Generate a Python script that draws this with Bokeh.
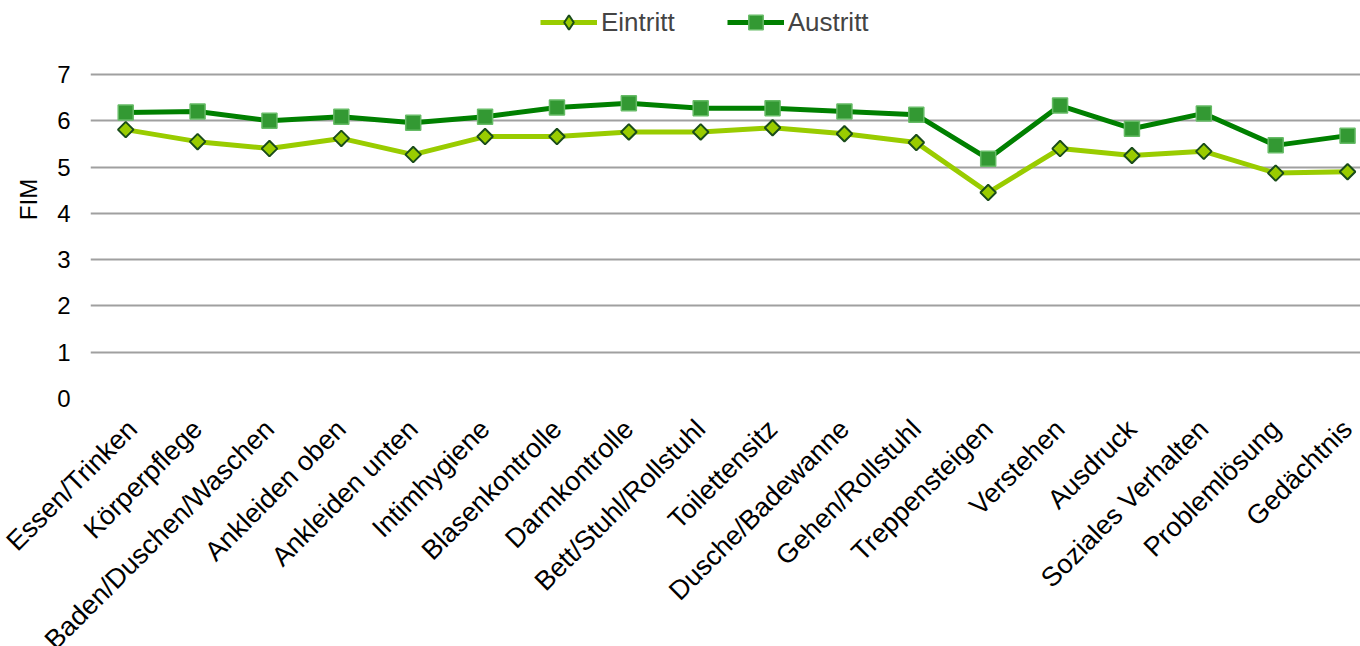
import math
from bokeh.plotting import figure
from bokeh.models import Legend, LegendItem, FixedTicker, Range1d
from bokeh.embed import file_html
from bokeh.resources import INLINE

categories = ["Essen/Trinken", "Körperpflege", "Baden/Duschen/Waschen", "Ankleiden oben",
              "Ankleiden unten", "Intimhygiene", "Blasenkontrolle", "Darmkontrolle",
              "Bett/Stuhl/Rollstuhl", "Toilettensitz", "Dusche/Badewanne", "Gehen/Rollstuhl",
              "Treppensteigen", "Verstehen", "Ausdruck", "Soziales Verhalten",
              "Problemlösung", "Gedächtnis"]
eintritt = [5.81, 5.55, 5.40, 5.62, 5.27, 5.66, 5.66, 5.76, 5.76, 5.85, 5.72, 5.53,
            4.45, 5.40, 5.25, 5.34, 4.87, 4.90]
austritt = [6.18, 6.20, 6.00, 6.09, 5.96, 6.09, 6.29, 6.38, 6.27, 6.27, 6.20, 6.13,
            5.18, 6.33, 5.83, 6.16, 5.47, 5.68]
y_ticks = [0, 1, 2, 3, 4, 5, 6, 7]

xs = list(range(len(categories)))
FONT = "Liberation Sans"

p = figure(frame_width=1270, frame_height=398, output_backend="svg", toolbar_location=None,
           x_range=Range1d(-0.49, 17.18), y_range=Range1d(0, 8.6),
           min_border_left=90, min_border_right=0, min_border_top=0, min_border_bottom=0)
p.outline_line_color = None
p.background_fill_color = "white"
p.border_fill_color = "white"

p.xgrid.visible = False
p.ygrid.grid_line_color = "#A0A0A0"
p.ygrid.grid_line_width = 2
p.yaxis.ticker = FixedTicker(ticks=y_ticks)
p.xaxis.ticker = FixedTicker(ticks=xs)
p.xaxis.major_label_overrides = {i: c for i, c in enumerate(categories)}
p.xaxis.major_label_orientation = math.pi / 4
for ax in (p.xaxis, p.yaxis):
    ax.axis_line_color = None
    ax.major_tick_line_color = None
    ax.minor_tick_line_color = None
    ax.major_label_text_font = FONT
    ax.major_label_text_color = "black"
p.yaxis.major_label_text_font_size = "24px"
p.xaxis.major_label_text_font_size = "27px"
p.xaxis.major_label_standoff = 20
p.yaxis.major_label_standoff = 14
p.yaxis.axis_label = "FIM"
p.yaxis.axis_label_text_font = FONT
p.yaxis.axis_label_text_font_size = "24px"
p.yaxis.axis_label_text_font_style = "normal"
p.yaxis.axis_label_text_color = "black"
p.yaxis.axis_label_standoff = 12

l1 = p.line(xs, eintritt, line_color="#99CC00", line_width=5)
# narrow diamond used for the legend swatch, fully covered by the rotated square below
d1 = p.scatter(xs, eintritt, marker="diamond", size=14,
               fill_color="#99CC00", line_color="#1A4D1A", line_width=2)
m1 = p.scatter(xs, eintritt, marker="square", angle=math.pi / 4, size=11,
               fill_color="#99CC00", line_color="#1A4D1A", line_width=2)
l2 = p.line(xs, austritt, line_color="#008000", line_width=5)
m2 = p.scatter(xs, austritt, marker="square", size=15, fill_color="#339933",
               line_color="#66BB66", line_width=1.5)

legend = Legend(items=[LegendItem(label="Eintritt", renderers=[l1, d1]),
                       LegendItem(label="Austritt", renderers=[l2, m2])],
                orientation="horizontal", location=(450, 358),
                label_text_font=FONT, label_text_font_size="26px",
                glyph_width=57, glyph_height=36, label_height=26,
                spacing=52, padding=0, margin=0, border_line_color=None,
                background_fill_alpha=0, label_standoff=4)
p.add_layout(legend)

open("out.html", "w").write(file_html(p, INLINE))
